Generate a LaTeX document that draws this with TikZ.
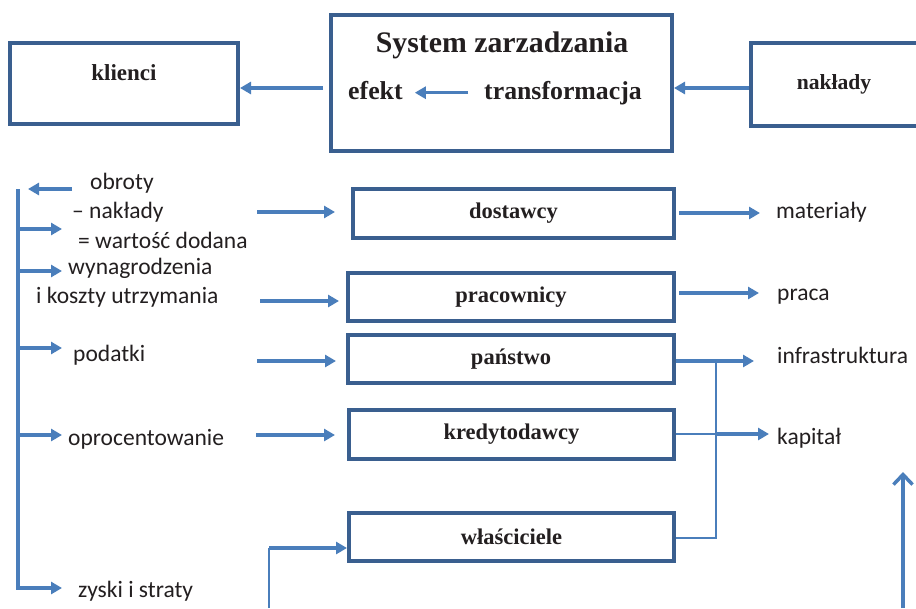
\documentclass[tikz,border=0pt]{standalone}
\usepackage{fontspec}
\setmainfont{Liberation Serif}
\newfontfamily\calib{Carlito}
\usetikzlibrary{arrows.meta}
\definecolor{boxblue}{HTML}{3A5F8F}
\definecolor{arrblue}{HTML}{4A7EBB}
\definecolor{ink}{HTML}{231F20}
\begin{document}
\begin{tikzpicture}[x=1pt,y=-1pt,
  box/.style={draw=boxblue,line width=4pt,inner sep=0pt,fill=white,
    font=\bfseries\fontsize{22.5}{26}\selectfont,text=ink},
  ttl/.style={font=\bfseries\fontsize{#1}{#1}\selectfont,text=ink,inner sep=0pt},
  lbl/.style={font=\calib\fontsize{23.5}{28}\selectfont,text=ink,inner sep=0pt,anchor=west},
  arr/.style={draw=arrblue,line width=3.5pt,-{Triangle[length=11pt,width=12pt]}},
  openarr/.style={draw=arrblue,line width=3.5pt,-{Straight Barb[length=10pt,width=19pt,line width=3.5pt]}},
  bar/.style={draw=arrblue,line width=3.5pt},
  thinline/.style={draw=arrblue,line width=1.5pt},
]
\clip (0,0) rectangle (916,608);
\fill[white] (0,0) rectangle (916,608);

% top row: clients, management system, inputs
\node[box,minimum width=228,minimum height=81] (klienci) at (124,83.5) {};
\node[ttl=23] (klienciT) at (124,73) {klienci};
\node[box,minimum width=341,minimum height=136] (system) at (501.5,83) {};
\node[ttl=29.8,anchor=base] (sysT) at (502,52) {System zarzadzania};
\node[ttl=25.8,anchor=base west] (efekt) at (348,99) {efekt};
\node[ttl=25.8,anchor=base west] (transf) at (484,99) {transformacja};
\node[box,minimum width=200,minimum height=83] (naklady) at (851,84.5) {};
\node[ttl=21.6] (nakladyT) at (834,84) {nakłady};

\coordinate (midrow) at (0,88);
\coordinate (sysout) at (323,88);
\draw[arr] (naklady.west |- midrow) -- (system.east |- midrow);
\draw[arr] (sysout) -- (klienci.east |- midrow);
\draw[arr] ([xshift=-16pt,yshift=4pt]transf.mid west) -- ([xshift=12pt,yshift=4pt]efekt.mid east);

% stakeholder boxes
\node[box,minimum width=321,minimum height=49] (dost) at (513.5,213.5) {dostawcy};
\node[box,minimum width=326,minimum height=48] (prac) at (511,297) {pracownicy};
\node[box,minimum width=326,minimum height=48] (panst) at (511,359) {państwo};
\node[box,minimum width=325,minimum height=49] (kred) at (511.5,434.5) {kredytodawcy};
\node[box,minimum width=325,minimum height=48] (wlasc) at (511.5,537) {właściciele};

% distribution of value added (left column)
\node[lbl] (obroty) at (90,183) {obroty};
\node[lbl] (minus) at (72,212) {– nakłady};
\node[lbl] (wd) at (78,240) {= wartość dodana};
\node[lbl] (wyn) at (68,268) {wynagrodzenia};
\node[lbl] (koszty) at (36,297) {i koszty utrzymania};
\node[lbl] (pod) at (73,355) {podatki};
\node[lbl] (opr) at (68,439) {oprocentowanie};
\node[lbl] (zyski) at (78,591) {zyski i straty};

\coordinate (spineTop) at (18,189);
\coordinate (spineBot) at (18,590);
\draw[bar] (spineTop) -- (spineBot);
\draw[arr] ([xshift=-18pt]obroty.west |- spineTop) -- ([xshift=10pt]spineTop);
\coordinate (b1) at (18,229);
\coordinate (b2) at (18,271);
\coordinate (b3) at (18,348);
\coordinate (b4) at (18,435);
\coordinate (b5) at (18,588);
\draw[arr] (b1) -- ++(44,0);
\draw[arr,shorten >=6pt] (b2) -- (b2 -| wyn.west);
\draw[arr,shorten >=11pt] (b3) -- (b3 -| pod.west);
\draw[arr,shorten >=6pt] (b4) -- (b4 -| opr.west);
\draw[arr,shorten >=16pt] (b5) -- (b5 -| zyski.west);

% arrows into the boxes
\coordinate (m1) at (257,212);
\coordinate (m2) at (260,301);
\coordinate (m3) at (257,361);
\coordinate (m4) at (256,435);
\coordinate (m5) at (269,548);
\coordinate (m5b) at (269,608);
\draw[arr,shorten >=16pt] (m1) -- (m1 -| dost.west);
\draw[arr,shorten >=7pt] (m2) -- (m2 -| prac.west);
\draw[arr,shorten >=10pt] (m3) -- (m3 -| panst.west);
\draw[arr,shorten >=12pt] (m4) -- (m4 -| kred.west);
\draw[thinline] (m5b) -- (m5);
\draw[arr] (m5) -- (m5 -| wlasc.west);

% resources supplied (right column)
\node[lbl] (mat) at (776,212) {materiały};
\node[lbl] (praca) at (777,297) {praca};
\node[lbl] (infra) at (777,355) {infrastruktura};
\node[lbl] (kap) at (777,438) {kapitał};

\coordinate (r1) at (676,213);
\coordinate (r2) at (676,293);
\coordinate (r3) at (676,361);
\coordinate (r4) at (676,434);
\coordinate (r5) at (676,538);
\coordinate (jx) at (716,0);
\draw[arr,shorten <=3pt,shorten >=16pt] (r1) -- (r1 -| mat.west);
\draw[arr,shorten <=3pt,shorten >=18pt] (r2) -- (r2 -| praca.west);
\draw[arr,shorten >=23pt] (r3) -- (r3 -| infra.west);
\draw[thinline] (r4) -- (r4 -| jx);
\draw[arr,shorten >=8pt] (r4 -| jx) -- (r4 -| kap.west);
\draw[thinline] (r5) -- (r5 -| jx) -- (r3 -| jx);

% upward arrow at the right edge
\coordinate (upBot) at (903,608);
\coordinate (upTop) at (903,472);
\draw[openarr] (upBot) -- (upTop);
\end{tikzpicture}
\end{document}
